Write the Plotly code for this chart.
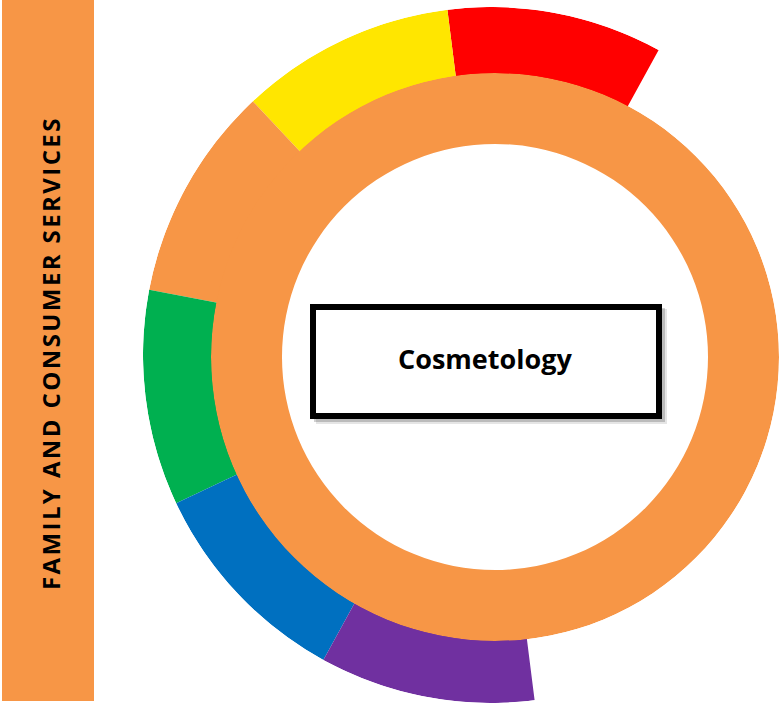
import numpy as np
import plotly.graph_objects as go

# ---------------- data ----------------
segment_names = ["Red", "Yellow", "Orange", "Green", "Blue", "Purple"]
segment_spans = [36, 36, 36, 36, 36, 36]          # angular span of each outer segment (deg)
center_label = "Cosmetology"
cluster_label = "FAMILY AND CONSUMER SERVICES"

# ---------------- style ----------------
segment_colors = ["#FF0000", "#FFE600", "#F79646", "#00B050", "#0070C0", "#7030A0"]
ORANGE = "#F79646"
W, H = 779, 704
START_ANGLE = 28.8      # clock angle (deg, clockwise from top) where the first segment ends
SECTOR = [60, 279]      # math-angle span of the outer polar subplot

# outer ring geometry (pixels)
OCX, OCY, OR_OUT, OR_IN = 491, 355, 348, 240
# inner ring geometry (pixels)
ICX, ICY, IR_OUT, IR_IN = 495, 357, 284, 213

spans = np.array(segment_spans, dtype=float)
ends = START_ANGLE - np.concatenate([[0], np.cumsum(spans)[:-1]])
thetas = ends - spans / 2

fig = go.Figure()

fig.add_trace(go.Barpolar(
    r=[OR_OUT - OR_IN] * len(segment_names),
    base=[OR_IN] * len(segment_names),
    theta=thetas,
    width=spans,
    marker=dict(color=segment_colors, line=dict(width=0)),
    text=segment_names,
    hoverinfo="text",
    subplot="polar",
    showlegend=False,
))

fig.add_trace(go.Barpolar(
    r=[IR_OUT - IR_IN],
    base=[IR_IN],
    theta=[0],
    width=[360],
    marker=dict(color=ORANGE, line=dict(width=0)),
    text=[center_label],
    hoverinfo="text",
    subplot="polar2",
    showlegend=False,
))

hidden_angular = dict(visible=False, showgrid=False, showline=False, showticklabels=False,
                      ticks="", rotation=90, direction="clockwise")
hidden_radial = dict(visible=False, showgrid=False, showline=False, showticklabels=False, ticks="")

# outer polar: sector bbox spans x in [-R, cos(60)R], y in [-R, R]
ox0 = (OCX - OR_OUT) / W
ox1 = (OCX + np.cos(np.radians(SECTOR[0])) * OR_OUT) / W
oy1 = 1 - (OCY - OR_OUT) / H
oy0 = 1 - (OCY + OR_OUT) / H

fig.update_layout(
    width=W, height=H,
    margin=dict(l=0, r=0, t=0, b=0),
    paper_bgcolor="white",
    plot_bgcolor="white",
    polar=dict(
        domain=dict(x=[ox0, ox1], y=[max(oy0, 0), min(oy1, 1)]),
        sector=SECTOR,
        bgcolor="rgba(0,0,0,0)",
        hole=0,
        angularaxis=hidden_angular,
        radialaxis=dict(range=[0, OR_OUT], **hidden_radial),
    ),
    polar2=dict(
        domain=dict(x=[(ICX - IR_OUT) / W, min((ICX + IR_OUT) / W, 1)],
                    y=[1 - (ICY + IR_OUT) / H, 1 - (ICY - IR_OUT) / H]),
        bgcolor="rgba(0,0,0,0)",
        angularaxis=hidden_angular,
        radialaxis=dict(range=[0, IR_OUT], **hidden_radial),
    ),
)

def px(x):
    return x / W

def py(y):
    return 1 - y / H

shapes = [
    # left orange band
    dict(type="rect", xref="paper", yref="paper", x0=px(2), x1=px(94), y0=py(701), y1=py(0),
         fillcolor=ORANGE, line=dict(width=0), layer="above"),
    # soft shadow of the centre box
    dict(type="rect", xref="paper", yref="paper", x0=px(316), x1=px(667), y0=py(424), y1=py(309),
         fillcolor="rgba(0,0,0,0.10)", line=dict(width=0), layer="above"),
    dict(type="rect", xref="paper", yref="paper", x0=px(314), x1=px(665), y0=py(422), y1=py(308),
         fillcolor="rgba(0,0,0,0.18)", line=dict(width=0), layer="above"),
    # centre box
    dict(type="rect", xref="paper", yref="paper", x0=px(313), x1=px(659), y0=py(416), y1=py(307),
         fillcolor="white", line=dict(color="black", width=6), layer="above"),
]
fig.update_layout(shapes=shapes)

fig.add_annotation(
    x=px(485), y=py(358), xref="paper", yref="paper",
    text="<b>" + center_label + "</b>", showarrow=False,
    font=dict(family="Open Sans", size=27, color="black"),
    xanchor="center", yanchor="middle",
)
spaced = "\u200a".join(cluster_label)
fig.add_annotation(
    x=px(50), y=py(355), xref="paper", yref="paper",
    text="<b>" + spaced + "</b>", showarrow=False, textangle=-90,
    font=dict(family="Open Sans", size=24, color="black"),
    xanchor="center", yanchor="middle",
)

fig.write_html("out.html", config={"displayModeBar": False},
               post_script="document.body.style.margin='0';")
